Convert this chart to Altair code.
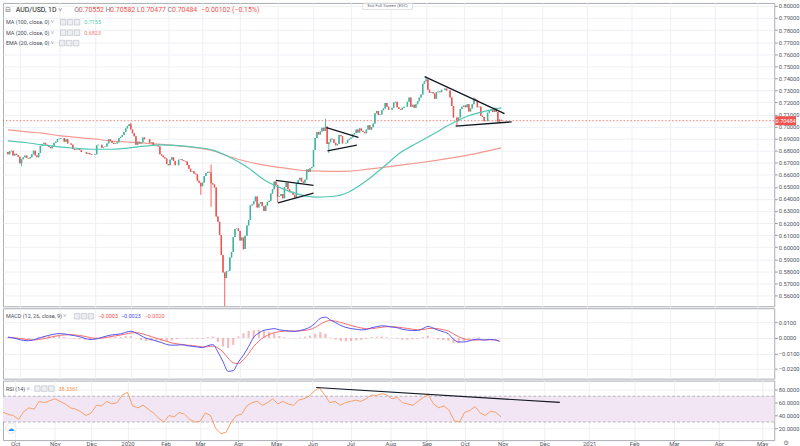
import altair as alt
import pandas as pd

FONT = "Roboto"

# ---------------- daily closes (bar 0 = 20 Sep 2019, one bar per trading day) ----------------
SEP19 = [0.6770, 0.6795, 0.6800, 0.6760, 0.6775, 0.6765, 0.6750]
OCT19 = [0.6695, 0.6730, 0.6745, 0.6760, 0.6740, 0.6735, 0.6745, 0.6770, 0.6800, 0.6760, 0.6745, 0.6780,
         0.6840, 0.6855, 0.6865, 0.6850, 0.6845, 0.6830, 0.6820, 0.6840, 0.6865, 0.6875, 0.6895]
NOV19 = [0.6900, 0.6905, 0.6905, 0.6875, 0.6895, 0.6860, 0.6860, 0.6850, 0.6815, 0.6805, 0.6810, 0.6820,
         0.6805, 0.6790, 0.6790, 0.6790, 0.6775, 0.6780, 0.6770, 0.6765, 0.6765]
DEC19 = [0.6770, 0.6845, 0.6850, 0.6850, 0.6825, 0.6830, 0.6835, 0.6860, 0.6895, 0.6880, 0.6865, 0.6855,
         0.6860, 0.6870, 0.6905, 0.6915, 0.6930, 0.6955, 0.6985, 0.7005, 0.7020]
JAN20 = [0.6975, 0.6945, 0.6920, 0.6850, 0.6875, 0.6860, 0.6870, 0.6910, 0.6895, 0.6895, 0.6895, 0.6865,
         0.6870, 0.6850, 0.6845, 0.6845, 0.6835, 0.6770, 0.6760, 0.6745, 0.6735, 0.6690]
FEB20 = [0.6680, 0.6725, 0.6745, 0.6715, 0.6680, 0.6680, 0.6725, 0.6730, 0.6720, 0.6715, 0.6710, 0.6680,
         0.6650, 0.6625, 0.6630, 0.6610, 0.6605, 0.6550, 0.6535, 0.6505]
MAR20 = [0.6535, 0.6590, 0.6615, 0.6625, 0.6620, 0.6530, 0.6520, 0.6495, 0.6255, 0.6210, 0.6100, 0.5935,
         0.5790, 0.5745, 0.5800, 0.5805, 0.5915, 0.5960, 0.6085, 0.6150, 0.6155, 0.6135]
APR20 = [0.6055, 0.6080, 0.5985, 0.6095, 0.6180, 0.6225, 0.6345, 0.6355, 0.6380, 0.6420, 0.6330, 0.6360,
         0.6375, 0.6340, 0.6300, 0.6345, 0.6375, 0.6385, 0.6445, 0.6480, 0.6545, 0.6515]
MAY20 = [0.6420, 0.6425, 0.6440, 0.6405, 0.6500, 0.6535, 0.6480, 0.6455, 0.6460, 0.6435, 0.6410, 0.6530,
         0.6555, 0.6575, 0.6545, 0.6535, 0.6560, 0.6645, 0.6625, 0.6655, 0.6665]
JUN20 = [0.6805, 0.6905, 0.6955, 0.6935, 0.6960, 0.6990, 0.6965, 0.7000, 0.6855, 0.6870, 0.6900, 0.6895,
         0.6865, 0.6845, 0.6855, 0.6930, 0.6920, 0.6860, 0.6860, 0.6865, 0.6890, 0.6900]
JUL20 = [0.6910, 0.6935, 0.6945, 0.6975, 0.6950, 0.6985, 0.6965, 0.6955, 0.6945, 0.6975, 0.7010, 0.6975,
         0.6995, 0.7025, 0.7110, 0.7130, 0.7095, 0.7100, 0.7135, 0.7150, 0.7195, 0.7165, 0.7140]
AUG20 = [0.7140, 0.7155, 0.7200, 0.7205, 0.7160, 0.7145, 0.7140, 0.7155, 0.7165, 0.7165, 0.7205, 0.7240,
         0.7165, 0.7180, 0.7155, 0.7185, 0.7210, 0.7240, 0.7265, 0.7355, 0.7375]
SEP20 = [0.7390, 0.7305, 0.7280, 0.7285, 0.7275, 0.7230, 0.7285, 0.7290, 0.7285, 0.7305, 0.7305, 0.7315,
         0.7300, 0.7300, 0.7240, 0.7170, 0.7075, 0.7075, 0.7045, 0.7075, 0.7145, 0.7165]
OCT20 = [0.7175, 0.7160, 0.7185, 0.7125, 0.7150, 0.7185, 0.7230, 0.7220, 0.7160, 0.7165, 0.7090, 0.7080,
         0.7045, 0.7045, 0.7115, 0.7130, 0.7140, 0.7120, 0.7155, 0.7120, 0.7040, 0.7059]
NOV20 = [0.70484]
MONTHS = [SEP19, OCT19, NOV19, DEC19, JAN20, FEB20, MAR20, APR20, MAY20, JUN20, JUL20, AUG20, SEP20, OCT20, NOV20]

FIRST_OPEN = 0.6790
LAST_OPEN = 0.70552
HIGH_WICKS = [(72, 0.7032), (119, 0.6685), (186, 0.7064), (245, 0.7413), (273, 0.7243), (289, 0.70582)]
LOW_WICKS = [(8, 0.6671), (113, 0.6434), (119, 0.6335), (127, 0.5506), (138, 0.5980), (158, 0.6370),
             (188, 0.6780), (263, 0.7006), (289, 0.70477)]

# moving averages, read every 10 bars
MA_IDX = [0, 10, 20, 30, 40, 50, 60, 70, 80, 90, 100, 110, 120, 130, 140, 150, 160, 170, 180, 190,
          200, 210, 220, 230, 240, 250, 260, 270, 280, 289]
MA100 = [0.6882, 0.6868, 0.6848, 0.6832, 0.6820, 0.6812, 0.6812, 0.6822, 0.6838, 0.6848, 0.6842, 0.6828,
         0.6805, 0.6745, 0.6665, 0.6560, 0.6490, 0.6440, 0.6415, 0.6420, 0.6460, 0.6550, 0.6665, 0.6785,
         0.6865, 0.6945, 0.7025, 0.7090, 0.7128, 0.7155]
MA200 = [0.6973, 0.6958, 0.6945, 0.6925, 0.6910, 0.6898, 0.6882, 0.6872, 0.6862, 0.6852, 0.6840, 0.6825,
         0.6800, 0.6750, 0.6710, 0.6680, 0.6660, 0.6640, 0.6632, 0.6628, 0.6630, 0.6645, 0.6662, 0.6680,
         0.6698, 0.6718, 0.6740, 0.6765, 0.6795, 0.6823]

# oscillators, read every 3 bars (MACD values in thousandths)
IND_IDX = list(range(0, 289, 3))
MACD_K = [0.6, 0.0, -0.8, -1.6, -1.8, -1.2, -0.2, 0.8, 1.7, 2.4,
          2.8, 2.6, 2.0, 1.5, 0.8, -0.2, -1.0, -0.8, 0.0, 1.0,
          1.8, 2.2, 2.6, 3.6, 4.3, 3.2, 1.5, -0.2, -1.0, -2.0,
          -3.0, -4.2, -4.7, -4.6, -4.4, -5.0, -5.4, -5.8, -6.2, -5.0,
          -4.3, -9.0, -15.3, -21.5, -21.0, -15.5, -11.0, -5.5, 0.5, 3.2,
          4.9, 5.5, 6.0, 5.2, 4.8, 4.4, 4.2, 4.8, 5.6, 7.0,
          9.5, 12.6, 13.4, 11.5, 9.8, 8.0, 6.8, 6.0, 5.6, 5.2,
          5.4, 6.6, 7.2, 7.8, 7.6, 7.0, 6.6, 5.6, 5.0, 4.8,
          4.8, 6.0, 7.4, 6.4, 5.0, 4.0, 2.6, -0.8, -2.6, -2.6,
          -2.0, -1.0, -0.8, -1.4, -1.0, -1.2, -2.2]
SIGNAL_K = [0.2, 0.2, -0.2, -0.7, -1.1, -1.3, -1.0, -0.5, 0.2, 1.0,
            1.6, 2.0, 2.1, 2.0, 1.6, 1.0, 0.3, -0.2, -0.2, 0.2,
            0.8, 1.4, 1.9, 2.5, 3.2, 3.4, 2.9, 1.9, 0.9, -0.2,
            -1.2, -2.2, -3.2, -3.8, -4.2, -4.6, -4.9, -5.3, -5.7, -5.6,
            -5.2, -6.5, -9.0, -13.0, -16.0, -16.5, -14.0, -10.0, -5.5, -2.0,
            0.5, 2.2, 3.4, 4.0, 4.4, 4.5, 4.4, 4.5, 4.8, 5.5,
            6.8, 8.8, 10.6, 11.2, 10.8, 10.0, 9.0, 8.0, 7.2, 6.4,
            6.0, 6.0, 6.4, 6.9, 7.2, 7.2, 7.0, 6.6, 6.1, 5.6,
            5.3, 5.4, 6.0, 6.2, 5.9, 5.3, 4.4, 2.6, 0.8, -0.5,
            -1.3, -1.4, -1.3, -1.3, -1.2, -1.2, -2.0]
HIST_K = [0.4, -0.2, -0.6, -0.9, -0.7, 0.1, 0.8, 1.3, 1.5, 1.4,
          1.2, 0.6, -0.1, -0.5, -0.8, -1.2, -1.3, -0.6, 0.2, 0.8,
          1.0, 0.8, 0.7, 1.1, 1.1, -0.2, -1.4, -2.1, -1.9, -1.8,
          -1.8, -2.0, -1.5, -0.8, -0.2, -0.4, -0.5, -0.5, -0.5, 0.6,
          0.9, -2.5, -5.5, -6.5, -4.5, 1.0, 3.0, 4.5, 5.0, 5.0,
          4.5, 4.0, 3.0, 1.2, 0.4, -0.1, -0.2, 0.3, 0.8, 1.5,
          2.7, 3.8, 2.8, 0.3, -1.0, -2.0, -2.2, -2.0, -1.6, -1.2,
          -0.6, 0.6, 0.8, 0.9, 0.4, -0.2, -0.4, -1.0, -1.1, -0.8,
          -0.5, 0.6, 1.4, 0.2, -0.9, -1.3, -1.8, -3.4, -3.4, -2.1,
          -0.7, 0.4, 0.5, -0.1, 0.2, 0.0, -0.3]
RSI = [45, 42, 40, 34, 46, 52, 50, 62, 60, 63,
       66, 62, 58, 52, 50, 46, 40, 44, 56, 55,
       62, 58, 60, 72, 76, 55, 52, 56, 50, 44,
       36, 30, 40, 38, 45, 42, 34, 30, 31, 44,
       40, 20, 12, 14, 30, 40, 42, 55, 60, 62,
       56, 60, 66, 58, 62, 58, 56, 64, 66, 70,
       78, 83, 72, 60, 62, 56, 60, 62, 64, 62,
       66, 72, 71, 74, 72, 66, 68, 60, 58, 56,
       62, 68, 72, 58, 52, 55, 48, 32, 30, 45,
       48, 54, 44, 40, 47, 45, 38]

# drawn trend lines: (bar, value, bar, value)
TREND_MAIN = [(244.1, 0.7414, 290.9, 0.7107), (262.3, 0.7003, 295.1, 0.7039),
              (157.0, 0.6554, 179.0, 0.6513), (158.2, 0.6367, 179.0, 0.6449),
              (186.6, 0.6992, 205.3, 0.6910), (187.2, 0.6798, 204.4, 0.6847)]
TREND_RSI = [(181.1, 83.5, 322.0, 60.4)]

# axis ticks
TICK_IDX = [7, 30, 51, 72, 94, 114, 136, 158, 179, 201, 224, 245, 267, 289, 313, 339, 365, 388, 414, 439]
TICK_LABELS = ["Oct", "Nov", "Dec", "2020", "Feb", "Mar", "Apr", "May", "Jun", "Jul", "Aug", "Sep",
               "Oct", "Nov", "Dec", "2021", "Feb", "Mar", "Apr", "May"]
PRICE_TICKS = [0.56, 0.57, 0.58, 0.59, 0.60, 0.61, 0.62, 0.63, 0.64, 0.65, 0.66, 0.67, 0.68, 0.69,
               0.70, 0.71, 0.72, 0.73, 0.74, 0.75, 0.76, 0.77, 0.78, 0.79, 0.80]
MACD_TICKS = [-0.02, -0.01, 0.0, 0.01]
RSI_TICKS = [20, 40, 60, 80]
RSI_BAND = [30, 70]

# ---------------- build tables ----------------
closes = [c for m in MONTHS for c in m]
opens = [FIRST_OPEN] + closes[:-1]
opens[-1] = LAST_OPEN
highs = [max(o, c) for o, c in zip(opens, closes)]
lows = [min(o, c) for o, c in zip(opens, closes)]
for i, v in HIGH_WICKS:
    highs[i] = v
for i, v in LOW_WICKS:
    lows[i] = v
candles = pd.DataFrame({"i": list(range(len(closes))), "open": opens, "high": highs,
                        "low": lows, "close": closes})
candles["up"] = candles["close"] >= candles["open"]
up_df = candles[candles["up"]]
dn_df = candles[~candles["up"]]

ma100_df = pd.DataFrame({"i": MA_IDX, "v": MA100})
ma200_df = pd.DataFrame({"i": MA_IDX, "v": MA200})
osc = pd.DataFrame({"i": IND_IDX, "macd": [v / 1000 for v in MACD_K],
                    "sig": [v / 1000 for v in SIGNAL_K], "hist": [v / 1000 for v in HIST_K],
                    "rsi": RSI})
tmain = pd.DataFrame(TREND_MAIN, columns=["i", "p", "i2", "p2"])
trsi = pd.DataFrame(TREND_RSI, columns=["i", "p", "i2", "p2"])
last_df = pd.DataFrame({"p": [closes[-1]], "t": ["%.5f" % closes[-1]]})

# ---------------- styling ----------------
UP = "#3fb39f"
DOWN = "#ef5350"
TEAL = "#52c7b4"
SALMON = "#f59a90"
GRID = "#eef0f4"
LBL = "#50535e"
W = 778
H_MAIN, H_MACD, H_RSI = 306, 71, 60

XS = alt.Scale(domain=[0, 446], nice=False, zero=False)
label_expr = "%s[indexof(%s, datum.value)]" % (
    "[" + ",".join("'%s'" % s for s in TICK_LABELS) + "]",
    "[" + ",".join(str(v) for v in TICK_IDX) + "]")
X_HID = alt.Axis(values=TICK_IDX, labels=False, ticks=False, domain=False, grid=True,
                 gridColor=GRID, title=None, minExtent=0, maxExtent=0, offset=0)
X_BOT = alt.Axis(values=TICK_IDX, labelExpr=label_expr, ticks=True, tickSize=1.5, tickColor="#9598a1",
                 domain=False, grid=True, gridColor=GRID, title=None, labelFontSize=6,
                 labelColor=LBL, labelPadding=-1, labelOverlap=False, labelFlush=False,
                 minExtent=0, maxExtent=8,
                 labelFontWeight={"expr": "(datum.label == '2020' || datum.label == '2021') ? 'bold' : 'normal'"})


def yaxis(values, fmt):
    return alt.Axis(orient="right", values=values, format=fmt, labelFontSize=5.8, labelColor=LBL,
                    tickSize=3, tickColor="#9598a1", domain=False, grid=True, gridColor=GRID,
                    title=None, labelPadding=1, minExtent=0)


def txt(s, x, y, size, color, weight="normal", align="left", font=FONT):
    return alt.Chart(pd.DataFrame({"t": [s]})).mark_text(
        align=align, baseline="middle", fontSize=size, color=color, fontWeight=weight, font=font
    ).encode(x=alt.value(x), y=alt.value(y), text="t:N")


def icons(x0, y):
    layers = []
    for k in range(3):
        layers.append(alt.Chart(pd.DataFrame({"a": [0]})).mark_rect(
            fill="#eceef2", stroke="#b8bbc4", strokeWidth=0.6
        ).encode(x=alt.value(x0 + 7 * k), x2=alt.value(x0 + 7 * k + 5.5),
                 y=alt.value(y - 2.8), y2=alt.value(y + 2.8)))
    return layers


# ---------------- main price panel ----------------
YS = alt.Scale(domain=[0.5510, 0.8025], nice=False, zero=False)
YA = yaxis(PRICE_TICKS, ".5f")
XE = alt.X("i:Q", scale=XS, axis=X_HID)

def wick(df, color):
    return alt.Chart(df).mark_rule(color=color, strokeWidth=0.9, clip=True).encode(
        x=XE, y=alt.Y("low:Q", scale=YS, axis=YA), y2="high:Q")

def body(df, color):
    return alt.Chart(df).mark_bar(color=color, width=1.5, clip=True).encode(
        x=XE, y=alt.Y("open:Q", scale=YS, axis=YA), y2="close:Q")

ma200 = alt.Chart(ma200_df).mark_line(color=SALMON, strokeWidth=1.2, interpolate="monotone").encode(
    x=XE, y=alt.Y("v:Q", scale=YS, axis=YA))
ma100 = alt.Chart(ma100_df).mark_line(color=TEAL, strokeWidth=1.2, interpolate="monotone").encode(
    x=XE, y=alt.Y("v:Q", scale=YS, axis=YA))
trend = alt.Chart(tmain).mark_rule(color="#131722", strokeWidth=1.3).encode(
    x=XE, x2="i2:Q", y=alt.Y("p:Q", scale=YS, axis=YA), y2="p2:Q")
pline = alt.Chart(last_df).mark_rule(color=DOWN, strokeDash=[1.5, 2], strokeWidth=0.8).encode(
    y=alt.Y("p:Q", scale=YS, axis=YA))
pbox = alt.Chart(last_df).mark_rect(color=DOWN, yOffset=-4.5, y2Offset=4.5).encode(
    x=alt.value(779), x2=alt.value(800), y=alt.Y("p:Q", scale=YS, axis=YA), y2="p:Q")
ptxt = alt.Chart(last_df).mark_text(color="white", fontSize=5.6, font=FONT, align="center",
                                    baseline="middle").encode(
    x=alt.value(789.5), y=alt.Y("p:Q", scale=YS, axis=YA), text="t:N")

legend_main = [
    txt("⊟", 2, 7.5, 7, "#787b86", font="DejaVu Sans"),
    txt("AUD/USD, 1D ˅", 13, 7.5, 7, "#131722"),
    txt("O", 72, 7.5, 7, "#787b86"), txt("0.70552", 76.5, 7.5, 7, DOWN),
    txt("H", 103.5, 7.5, 7, "#787b86"), txt("0.70582", 108, 7.5, 7, DOWN),
    txt("L", 135, 7.5, 7, "#787b86"), txt("0.70477", 139, 7.5, 7, DOWN),
    txt("C", 166, 7.5, 7, "#787b86"), txt("0.70484", 170.5, 7.5, 7, DOWN),
    txt("−0.00102 (−0.15%)", 200, 7.5, 7, DOWN),
    txt("MA (100, close, 0) ˅", 3, 19.5, 5.5, "#4a4d57"), txt("0.7155", 82, 19.5, 5.5, TEAL),
    txt("MA (200, close, 0) ˅", 3, 30, 5.5, "#4a4d57"), txt("0.6823", 82, 30, 5.5, "#f27c7c"),
    txt("EMA (20, close, 0) ˅", 3, 40.5, 5.5, "#4a4d57"),
] + icons(58, 19.5) + icons(58, 30) + icons(57, 40.5)

exit_box = alt.Chart(pd.DataFrame({"a": [0]})).mark_rect(
    fill="white", stroke="#c8cad0", strokeWidth=0.6).encode(
    x=alt.value(363), x2=alt.value(413), y=alt.value(0.5), y2=alt.value(6.5))
exit_txt = txt("Exit Full Screen (ESC)", 388, 3.6, 4.3, "#6a6d78", align="center")

main = alt.layer(
    ma200, wick(up_df, UP), wick(dn_df, DOWN), body(up_df, UP), body(dn_df, DOWN), ma100,
    trend, pline, pbox, ptxt, exit_box, exit_txt, *legend_main
).properties(width=W, height=H_MAIN)

# ---------------- MACD panel ----------------
YS_M = alt.Scale(domain=[-0.0262, 0.0191], nice=False, zero=False)
YA_M = yaxis(MACD_TICKS, ".4f")
hist = alt.Chart(osc).mark_bar(color="#f08080", opacity=0.55, width=2.2).encode(
    x=XE, y=alt.Y("hist:Q", scale=YS_M, axis=YA_M), y2=alt.datum(0))
macd_line = alt.Chart(osc).mark_line(color="#5353f2", strokeWidth=1, interpolate="monotone").encode(
    x=XE, y=alt.Y("macd:Q", scale=YS_M, axis=YA_M))
sig_line = alt.Chart(osc).mark_line(color="#f46b6b", strokeWidth=1, interpolate="monotone").encode(
    x=XE, y=alt.Y("sig:Q", scale=YS_M, axis=YA_M))
legend_macd = [
    txt("MACD (12, 26, close, 9) ˅", 3, 8, 5.5, "#4a4d57"),
    txt("−0.0003", 96, 8, 5.5, "#f04e4e"),
    txt("−0.0023", 119, 8, 5.5, "#4848f0"),
    txt("−0.0020", 143, 8, 5.5, "#f06060"),
] + icons(72, 8)
macd = alt.layer(hist, sig_line, macd_line, *legend_macd).properties(width=W, height=H_MACD)

# ---------------- RSI panel ----------------
YS_R = alt.Scale(domain=[1.9, 94.2], nice=False, zero=False)
YA_R = yaxis(RSI_TICKS, ".4f")
XB = alt.X("i:Q", scale=XS, axis=X_BOT)
band_df = pd.DataFrame({"lo": [RSI_BAND[0]], "hi": [RSI_BAND[1]]})
band = alt.Chart(band_df).mark_rect(color="#f2e6f4").encode(
    x=alt.value(0), x2=alt.value(W), y=alt.Y("lo:Q", scale=YS_R, axis=YA_R), y2="hi:Q")
band_lines = alt.Chart(pd.DataFrame({"v": RSI_BAND})).mark_rule(
    color="#a3a6ae", strokeDash=[3, 2], strokeWidth=0.8).encode(
    y=alt.Y("v:Q", scale=YS_R, axis=YA_R))
rsi_line = alt.Chart(osc).mark_line(color="#f5a066", strokeWidth=1).encode(
    x=XB, y=alt.Y("rsi:Q", scale=YS_R, axis=YA_R))
rsi_trend = alt.Chart(trsi).mark_rule(color="#131722", strokeWidth=1.2).encode(
    x=XB, x2="i2:Q", y=alt.Y("p:Q", scale=YS_R, axis=YA_R), y2="p2:Q")
cloud_bg = alt.Chart(pd.DataFrame({"a": [0]})).mark_circle(
    size=110, color="white", stroke="#dfe1e6", strokeWidth=0.8, opacity=1).encode(
    x=alt.value(8), y=alt.value(48))
legend_rsi = [
    txt("RSI (14) ˅", 3, 8, 5.5, "#4a4d57"),
    txt("38.3361", 56, 8, 5.5, "#f7924a"),
    txt("☁", 8, 48.5, 7, "#2196f3", align="center", font="DejaVu Sans"),
    txt("⚙", 790, 63, 6.5, "#787b86", align="center", font="DejaVu Sans"),
] + icons(32, 8)
rsi = alt.layer(band, band_lines, rsi_line, rsi_trend, cloud_bg, *legend_rsi).properties(
    width=W, height=H_RSI)

chart = alt.vconcat(main, macd, rsi, spacing=0).properties(
    padding={"left": 0, "top": 0, "right": 0, "bottom": 0}
).configure_view(stroke="#a9acb4", strokeWidth=1).configure_axis(labelFont=FONT)

chart.save("out.html", embed_options={"renderer": "svg", "actions": False})
